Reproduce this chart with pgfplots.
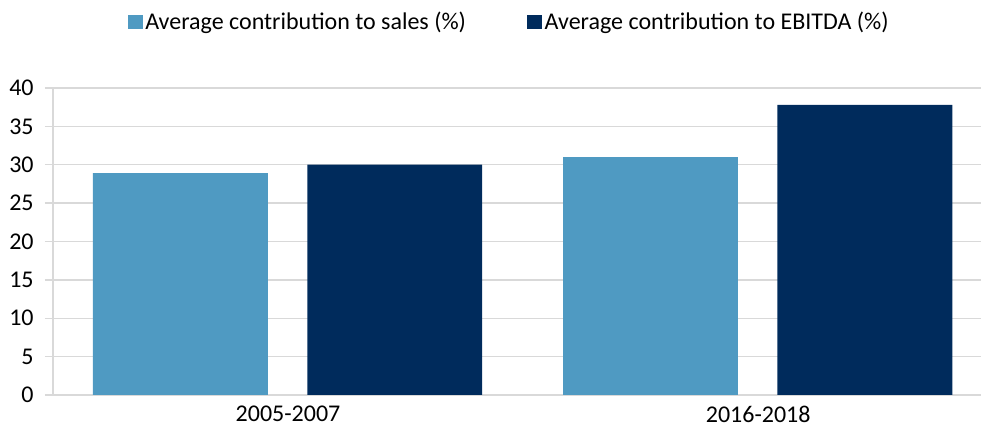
\documentclass[border=0pt]{standalone}
\usepackage{pgfplots}
\pgfplotsset{compat=1.18}
\usepackage{fontspec}
\setmainfont{Carlito}
\definecolor{lightb}{HTML}{4F9AC2}
\definecolor{darkb}{HTML}{002B5C}
\definecolor{gridc}{HTML}{D9D9D9}
\begin{document}
\begin{tikzpicture}
\useasboundingbox (-39.75pt,-27pt) rectangle (696pt,296.25pt);
\begin{axis}[
  at={(0,0)}, anchor=south west,
  scale only axis,
  width=696pt, height=230.25pt,
  ymin=0, ymax=40, ytick={0,5,...,40},
  xmin=-0.5, xmax=1.474,
  xtick={0,1}, xticklabels={2005-2007,2016-2018},
  bar width=0.372,
  axis x line*=bottom, axis y line*=left,
  axis line style={draw=gridc, line width=1.1pt, -},
  ymajorgrids, grid style={draw=gridc, line width=1.1pt},
  tick align=outside, major tick length=6pt,
  ytick style={draw=gridc, line width=1.1pt},
  xtick style={draw=none},
  tick label style={font=\fontsize{18}{20}\selectfont, text=black},
  yticklabel style={xshift=-5pt},
  xticklabel style={yshift=-1pt, inner sep=1pt},
  /pgf/number format/assume math mode=true,
  legend style={draw=none, at={(0.492,1)}, anchor=south, yshift=38pt,
    legend columns=2, font=\fontsize{18}{20}\selectfont,
    /tikz/every even column/.append style={column sep=44pt}},
  legend image code/.code={\fill[#1] (0pt,-5.5pt) rectangle (11pt,5.5pt);},
]
\addplot[ybar, fill=lightb, draw=none, bar shift=-0.229] coordinates {(0,28.9) (1,31.0)};
\addlegendentry{Average contribution to sales (\%)}
\addplot[ybar, fill=darkb, draw=none, bar shift=0.227] coordinates {(0,30.0) (1,37.8)};
\addlegendentry{Average contribution to EBITDA (\%)}
\end{axis}
\end{tikzpicture}
\end{document}
